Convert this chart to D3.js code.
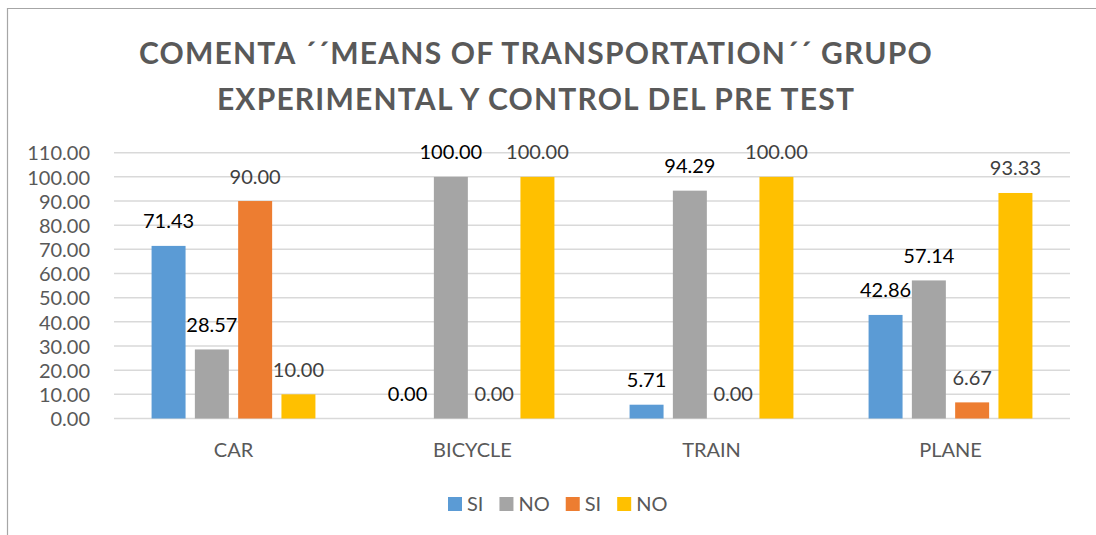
<!DOCTYPE html>
<html>
<head>
<meta charset="utf-8">
<script src="https://cdn.jsdelivr.net/npm/d3@7"></script>
<style>
  html, body { margin: 0; padding: 0; background: #fff; }
  svg { display: block; }
  text { font-family: Lato, "Open Sans", sans-serif; }
</style>
</head>
<body>
<svg id="chart" width="1096" height="535"></svg>
<script>
// Categories and series
const categories = ["CAR", "BICYCLE", "TRAIN", "PLANE"];
const seriesNames = ["SI", "NO", "SI", "NO"];
const siExperimental = [71.43, 0.00, 5.71, 42.86];
const noExperimental = [28.57, 100.00, 94.29, 57.14];
const siControl = [90.00, 0.00, 0.00, 6.67];
const noControl = [10.00, 100.00, 100.00, 93.33];
const yTicks = [0, 10, 20, 30, 40, 50, 60, 70, 80, 90, 100, 110];
const titleLines = ["COMENTA \u00B4\u00B4MEANS OF TRANSPORTATION\u00B4\u00B4 GRUPO",
                    "EXPERIMENTAL Y CONTROL DEL PRE TEST"];

const seriesValues = [siExperimental, noExperimental, siControl, noControl];
const colors = ["#5b9bd5", "#a5a5a5", "#ed7d31", "#ffc000"];
const labelColors = ["#000000", "#000000", "#404040", "#404040"];

const svg = d3.select("#chart");

// Chart frame (top and left edges visible)
svg.append("path")
  .attr("d", "M7.5,535 L7.5,8.5 L1096,8.5")
  .attr("fill", "none")
  .attr("stroke", "#a6a6a6")
  .attr("stroke-width", 1.2);

// Title
svg.append("g").selectAll("text")
  .data(titleLines)
  .join("text")
  .attr("x", 536)
  .attr("y", (d, i) => 64 + i * 46)
  .attr("text-anchor", "middle")
  .attr("font-weight", "bold")
  .attr("font-size", 30)
  .attr("letter-spacing", 1.2)
  .attr("fill", "#595959")
  .text(d => d);

// Scales
const plotLeft = 114, plotRight = 1070;
const y = d3.scaleLinear().domain([0, 110]).range([418.5, 152.7]);
const x0 = d3.scaleBand().domain(categories).range([plotLeft, plotRight]).padding(0);
const x1 = d3.scaleBand().domain(d3.range(seriesValues.length))
  .range([0, x0.bandwidth()])
  .paddingInner(0.215)
  .paddingOuter(0.868);

// Gridlines
svg.append("g").selectAll("line")
  .data(yTicks)
  .join("line")
  .attr("x1", plotLeft).attr("x2", plotRight)
  .attr("y1", d => y(d)).attr("y2", d => y(d))
  .attr("stroke", "#d9d9d9")
  .attr("stroke-width", 1.5);

// Y axis labels
const yAxis = d3.axisLeft(y).tickValues(yTicks).tickFormat(d3.format(".2f")).tickSize(0).tickPadding(0);
const yAxisG = svg.append("g").attr("transform", "translate(90,0)").call(yAxis);
yAxisG.select(".domain").remove();
yAxisG.selectAll("text")
  .attr("font-family", "Lato, sans-serif")
  .attr("font-size", 20)
  .attr("fill", "#595959")
  .attr("dy", "0.36em");

// X axis labels
const xAxis = d3.axisBottom(x0).tickSize(0).tickPadding(0);
const xAxisG = svg.append("g").attr("transform", "translate(0,457)").call(xAxis);
xAxisG.select(".domain").remove();
xAxisG.selectAll("text")
  .attr("font-family", "Lato, sans-serif")
  .attr("font-size", 20)
  .attr("fill", "#595959")
  .attr("dy", 0)
  .attr("y", 0);

// Bars
const groups = svg.append("g").selectAll("g")
  .data(categories)
  .join("g")
  .attr("transform", d => `translate(${x0(d)},0)`);

const cells = groups.selectAll("g.cell")
  .data((c, ci) => seriesValues.map((vals, si) => ({ si, v: vals[ci] })))
  .join("g")
  .attr("class", "cell");

cells.append("rect")
  .attr("x", d => x1(d.si))
  .attr("width", x1.bandwidth())
  .attr("y", d => y(d.v))
  .attr("height", d => y(0) - y(d.v))
  .attr("fill", d => colors[d.si]);

cells.append("text")
  .attr("x", d => x1(d.si) + x1.bandwidth() / 2)
  .attr("y", d => y(d.v) - 17.5)
  .attr("text-anchor", "middle")
  .attr("font-size", 20)
  .attr("fill", d => labelColors[d.si])
  .text(d => d3.format(".2f")(d.v));

// Legend
const legend = svg.append("g").attr("transform", "translate(448,0)");
let lx = 0;
seriesNames.forEach((name, i) => {
  const item = legend.append("g").attr("transform", `translate(${lx},0)`);
  item.append("rect")
    .attr("x", 0).attr("y", 497)
    .attr("width", 14).attr("height", 14)
    .attr("fill", colors[i]);
  const t = item.append("text")
    .attr("x", 19).attr("y", 511)
    .attr("font-size", 20)
    .attr("fill", "#595959")
    .text(name);
  lx += 19 + t.node().getComputedTextLength() + 16;
});
</script>
</body>
</html>
